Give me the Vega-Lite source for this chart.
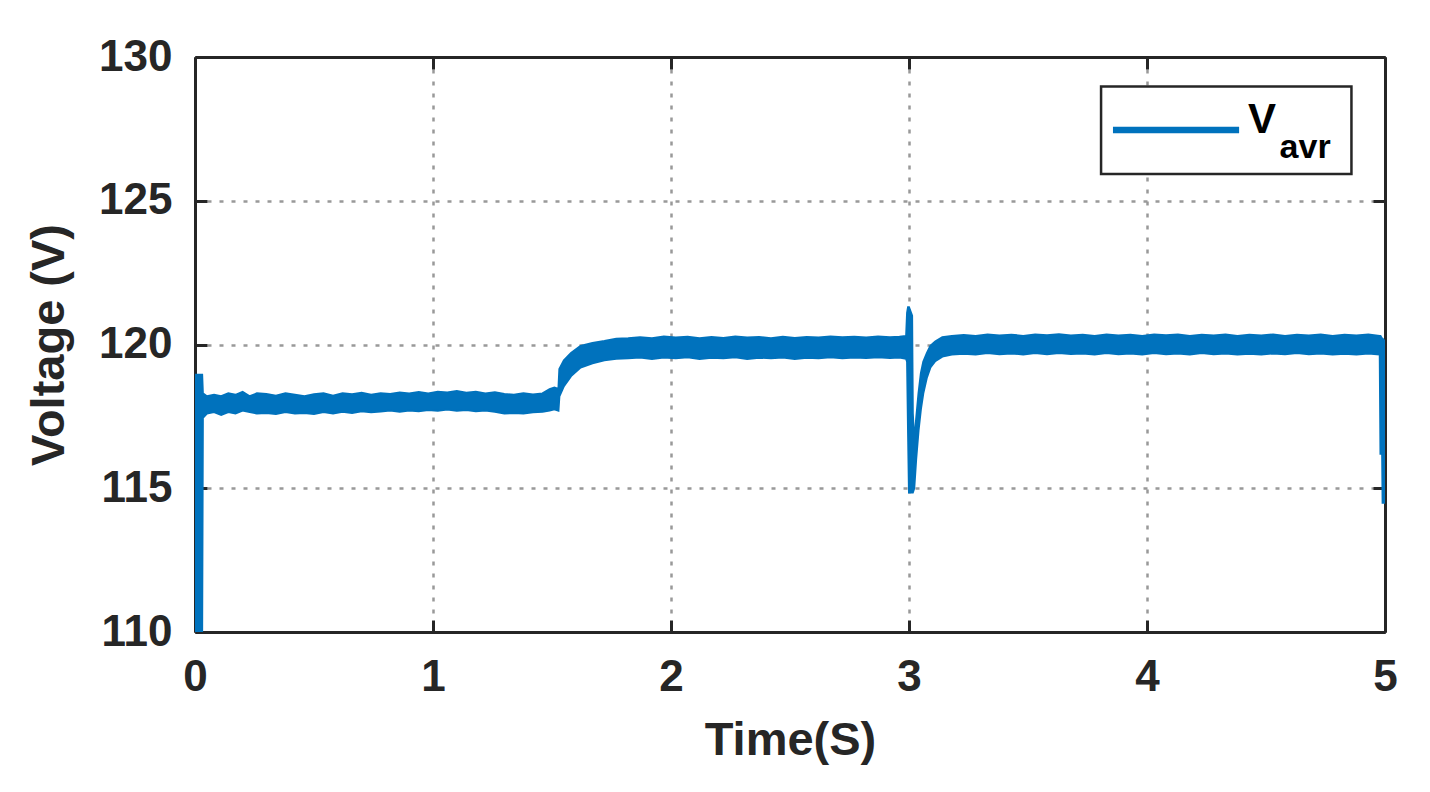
{
  "$schema": "https://vega.github.io/schema/vega-lite/v6.json",
  "width": 1190,
  "height": 575,
  "autosize": {"type": "none"},
  "padding": {"left": 195, "top": 57, "right": 45, "bottom": 160},
  "background": "white",
  "config": {
    "view": {"stroke": null},
    "font": "Liberation Sans",
    "axis": {
      "labelFont": "Liberation Sans", "labelFontWeight": "bold", "labelFontSize": 44, "labelColor": "#262626", "labelFlush": false,
      "titleFont": "Liberation Sans", "titleFontWeight": "bold", "titleFontSize": 47, "titleColor": "#262626",
      "domainColor": "#262626", "domainWidth": 3, "tickColor": "#262626", "tickWidth": 3, "tickSize": -12,
      "gridColor": "#999999", "gridDash": [4, 8], "gridWidth": 2.5, "gridOpacity": 1
    }
  },
  "resolve": {"axis": {"x": "independent", "y": "independent"}},
  "layer": [
    {
      "data": {"values": [
        {"t":0,"lo":110,"hi":118.95},{"t":0.03,"lo":110,"hi":118.95},{"t":0.033,"lo":117.45,"hi":118.3},
        {"t":0.05,"lo":117.6,"hi":118.2},{"t":0.08,"lo":117.65,"hi":118.25},{"t":0.11,"lo":117.55,"hi":118.2},
        {"t":0.14,"lo":117.65,"hi":118.3},{"t":0.17,"lo":117.6,"hi":118.25},{"t":0.2,"lo":117.7,"hi":118.35},
        {"t":0.23,"lo":117.65,"hi":118.2},{"t":0.26,"lo":117.6,"hi":118.3},{"t":0.3,"lo":117.62,"hi":118.28},
        {"t":0.34,"lo":117.58,"hi":118.22},{"t":0.38,"lo":117.65,"hi":118.3},{"t":0.42,"lo":117.6,"hi":118.25},
        {"t":0.46,"lo":117.62,"hi":118.2},{"t":0.5,"lo":117.58,"hi":118.27},{"t":0.54,"lo":117.65,"hi":118.3},
        {"t":0.58,"lo":117.6,"hi":118.22},{"t":0.62,"lo":117.66,"hi":118.3},{"t":0.66,"lo":117.62,"hi":118.27},
        {"t":0.7,"lo":117.68,"hi":118.32},{"t":0.74,"lo":117.64,"hi":118.25},{"t":0.78,"lo":117.67,"hi":118.3},
        {"t":0.82,"lo":117.7,"hi":118.28},{"t":0.86,"lo":117.66,"hi":118.33},{"t":0.9,"lo":117.7,"hi":118.3},
        {"t":0.94,"lo":117.68,"hi":118.35},{"t":0.98,"lo":117.72,"hi":118.3},{"t":1.02,"lo":117.7,"hi":118.36},
        {"t":1.06,"lo":117.74,"hi":118.33},{"t":1.1,"lo":117.7,"hi":118.38},{"t":1.14,"lo":117.72,"hi":118.32},
        {"t":1.18,"lo":117.68,"hi":118.36},{"t":1.22,"lo":117.7,"hi":118.3},{"t":1.26,"lo":117.66,"hi":118.34},
        {"t":1.3,"lo":117.6,"hi":118.28},{"t":1.34,"lo":117.62,"hi":118.25},{"t":1.38,"lo":117.6,"hi":118.3},
        {"t":1.42,"lo":117.64,"hi":118.26},{"t":1.46,"lo":117.66,"hi":118.3},{"t":1.49,"lo":117.7,"hi":118.45},
        {"t":1.51,"lo":117.75,"hi":118.5},{"t":1.527,"lo":117.7,"hi":118.45},{"t":1.531,"lo":118.2,"hi":119.15},
        {"t":1.55,"lo":118.55,"hi":119.45},{"t":1.58,"lo":118.9,"hi":119.7},{"t":1.62,"lo":119.2,"hi":119.95},
        {"t":1.67,"lo":119.35,"hi":120.05},{"t":1.72,"lo":119.45,"hi":120.12},{"t":1.77,"lo":119.5,"hi":120.2},
        {"t":1.82,"lo":119.52,"hi":120.22},{"t":1.87,"lo":119.55,"hi":120.25},{"t":1.92,"lo":119.5,"hi":120.22},
        {"t":1.97,"lo":119.55,"hi":120.28},{"t":2.02,"lo":119.52,"hi":120.24},{"t":2.07,"lo":119.56,"hi":120.27},
        {"t":2.12,"lo":119.5,"hi":120.22},{"t":2.17,"lo":119.54,"hi":120.26},{"t":2.22,"lo":119.52,"hi":120.23},
        {"t":2.27,"lo":119.56,"hi":120.28},{"t":2.32,"lo":119.5,"hi":120.24},{"t":2.37,"lo":119.54,"hi":120.26},
        {"t":2.42,"lo":119.52,"hi":120.22},{"t":2.47,"lo":119.55,"hi":120.27},{"t":2.52,"lo":119.5,"hi":120.23},
        {"t":2.57,"lo":119.54,"hi":120.26},{"t":2.62,"lo":119.52,"hi":120.24},{"t":2.67,"lo":119.56,"hi":120.28},
        {"t":2.72,"lo":119.52,"hi":120.25},{"t":2.77,"lo":119.55,"hi":120.27},{"t":2.82,"lo":119.53,"hi":120.24},
        {"t":2.87,"lo":119.56,"hi":120.28},{"t":2.92,"lo":119.53,"hi":120.25},{"t":2.96,"lo":119.55,"hi":120.27},
        {"t":2.988,"lo":119.5,"hi":120.3},{"t":2.992,"lo":119.4,"hi":121.1},{"t":2.996,"lo":117.0,"hi":121.3},
        {"t":3.0,"lo":114.85,"hi":121.3},{"t":3.013,"lo":114.85,"hi":121.0},{"t":3.016,"lo":114.85,"hi":117.6},
        {"t":3.022,"lo":115.0,"hi":116.6},{"t":3.03,"lo":116.0,"hi":117.4},{"t":3.04,"lo":117.0,"hi":118.3},
        {"t":3.05,"lo":117.75,"hi":119.0},{"t":3.06,"lo":118.3,"hi":119.4},{"t":3.075,"lo":118.85,"hi":119.7},
        {"t":3.09,"lo":119.2,"hi":119.95},{"t":3.11,"lo":119.42,"hi":120.1},{"t":3.14,"lo":119.58,"hi":120.25},
        {"t":3.18,"lo":119.65,"hi":120.3},{"t":3.23,"lo":119.68,"hi":120.33},{"t":3.28,"lo":119.65,"hi":120.3},
        {"t":3.33,"lo":119.7,"hi":120.35},{"t":3.38,"lo":119.66,"hi":120.31},{"t":3.43,"lo":119.69,"hi":120.34},
        {"t":3.48,"lo":119.65,"hi":120.3},{"t":3.53,"lo":119.7,"hi":120.35},{"t":3.58,"lo":119.66,"hi":120.32},
        {"t":3.63,"lo":119.7,"hi":120.36},{"t":3.68,"lo":119.67,"hi":120.31},{"t":3.73,"lo":119.69,"hi":120.34},
        {"t":3.78,"lo":119.65,"hi":120.3},{"t":3.83,"lo":119.7,"hi":120.35},{"t":3.88,"lo":119.66,"hi":120.31},
        {"t":3.93,"lo":119.69,"hi":120.34},{"t":3.98,"lo":119.65,"hi":120.3},{"t":4.03,"lo":119.7,"hi":120.35},
        {"t":4.08,"lo":119.66,"hi":120.32},{"t":4.13,"lo":119.69,"hi":120.35},{"t":4.18,"lo":119.65,"hi":120.3},
        {"t":4.23,"lo":119.7,"hi":120.34},{"t":4.28,"lo":119.66,"hi":120.31},{"t":4.33,"lo":119.69,"hi":120.35},
        {"t":4.38,"lo":119.65,"hi":120.3},{"t":4.43,"lo":119.68,"hi":120.34},{"t":4.48,"lo":119.65,"hi":120.31},
        {"t":4.53,"lo":119.69,"hi":120.35},{"t":4.58,"lo":119.66,"hi":120.3},{"t":4.63,"lo":119.7,"hi":120.34},
        {"t":4.68,"lo":119.66,"hi":120.31},{"t":4.73,"lo":119.69,"hi":120.35},{"t":4.78,"lo":119.65,"hi":120.3},
        {"t":4.83,"lo":119.68,"hi":120.34},{"t":4.88,"lo":119.65,"hi":120.31},{"t":4.93,"lo":119.69,"hi":120.35},
        {"t":4.978,"lo":119.65,"hi":120.3},{"t":4.981,"lo":116.2,"hi":120.3},{"t":4.988,"lo":116.2,"hi":120.2},
        {"t":4.99,"lo":114.5,"hi":120.2},{"t":5.0,"lo":114.5,"hi":120.1}
      ]},
      "mark": {"type": "area", "color": "#0072BD", "stroke": "#0072BD", "strokeWidth": 2, "interpolate": "linear", "clip": true},
      "encoding": {
        "x": {"field": "t", "type": "quantitative", "scale": {"domain": [0, 5], "nice": false, "zero": false},
          "axis": {"orient": "bottom", "values": [0, 1, 2, 3, 4, 5], "title": "Time(S)", "grid": true, "labelPadding": 35, "titlePadding": 18, "format": "d"}},
        "y": {"field": "lo", "type": "quantitative", "scale": {"domain": [110, 130], "nice": false, "zero": false},
          "axis": {"orient": "left", "values": [110, 115, 120, 125, 130], "title": "Voltage (V)", "grid": true, "labelPadding": 35, "titlePadding": 25, "format": "d"}},
        "y2": {"field": "hi"}
      }
    },
    {
      "data": {"values": [{"x1": 3.807, "x2": 4.859, "y1": 125.93, "y2": 128.97}]},
      "mark": {"type": "rect", "fill": "white", "stroke": "#262626", "strokeWidth": 2.5},
      "encoding": {
        "x": {"field": "x1", "type": "quantitative", "scale": {"domain": [0, 5], "nice": false, "zero": false},
          "axis": {"orient": "top", "values": [0, 1, 2, 3, 4, 5], "labels": false, "title": null, "grid": false}},
        "x2": {"field": "x2"},
        "y": {"field": "y1", "type": "quantitative", "scale": {"domain": [110, 130], "nice": false, "zero": false},
          "axis": {"orient": "right", "values": [110, 115, 120, 125, 130], "labels": false, "title": null, "grid": false}},
        "y2": {"field": "y2"}
      }
    },
    {
      "data": {"values": [{"lx": 3.857, "ly": 127.46}, {"lx": 4.387, "ly": 127.46}]},
      "mark": {"type": "line", "color": "#0072BD", "strokeWidth": 6.5},
      "encoding": {
        "x": {"field": "lx", "type": "quantitative", "axis": null},
        "y": {"field": "ly", "type": "quantitative", "axis": null}
      }
    },
    {
      "data": {"values": [{"lx": 4.424, "ly": 127.35, "txt": "V"}]},
      "mark": {"type": "text", "font": "Liberation Sans", "fontWeight": "bold", "fontSize": 42, "color": "#000000", "align": "left", "baseline": "alphabetic"},
      "encoding": {
        "x": {"field": "lx", "type": "quantitative", "axis": null},
        "y": {"field": "ly", "type": "quantitative", "axis": null},
        "text": {"field": "txt"}
      }
    },
    {
      "data": {"values": [{"lx": 4.557, "ly": 126.48, "txt": "avr"}]},
      "mark": {"type": "text", "font": "Liberation Sans", "fontWeight": "bold", "fontSize": 34, "color": "#000000", "align": "left", "baseline": "alphabetic"},
      "encoding": {
        "x": {"field": "lx", "type": "quantitative", "axis": null},
        "y": {"field": "ly", "type": "quantitative", "axis": null},
        "text": {"field": "txt"}
      }
    }
  ]
}
